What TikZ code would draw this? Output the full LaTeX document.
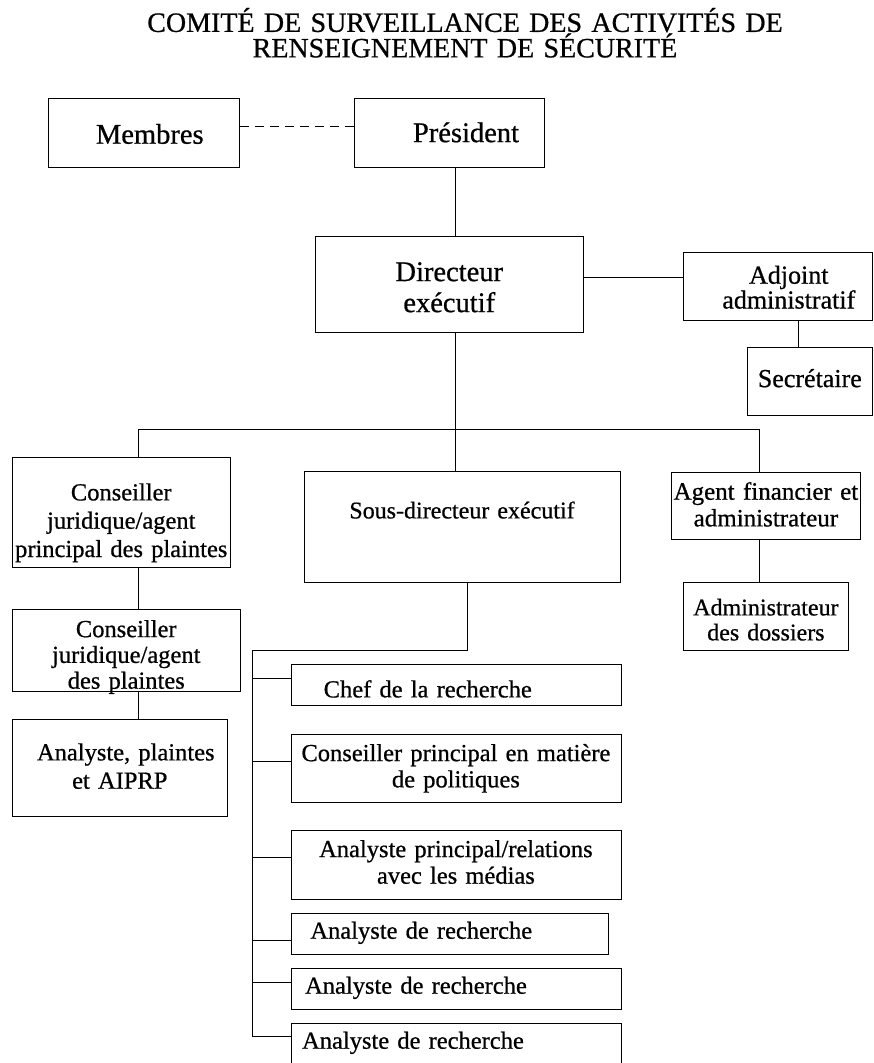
\documentclass[tikz,border=0pt]{standalone}
\usepackage{fontspec}
\setmainfont[FakeBold=0.7]{Liberation Serif}
\usetikzlibrary{positioning}
\newcommand\topfont{\fontsize{28.5}{31}\selectfont}
\newcommand\bodyfont{\fontsize{24.5}{26.5}\selectfont}
\tikzset {
  link/.style = {
    draw = black,
    line width = 0.8pt
  },
  % link to the members, dashed
  dlink/.style = {
    link,
    dash pattern = on 9pt off 6pt
  },
  % box: width, top to first baseline, first baseline to bottom
  box/.style n args = {3}{
    draw = black,
    line width = 0.8pt,
    anchor = north west,
    inner sep = 0pt,
    text width = #1pt,
    text height = #2pt,
    text depth = #3pt,
    align = center,
    font = \bodyfont
  }
}
\begin{document}
\begin{tikzpicture}[x=1pt, y=-1pt]
    \useasboundingbox (0,0) rectangle (873,1063);
    \node[font = \fontsize{28}{23.3}\selectfont, text width = 800pt, align = center,
      inner sep = 0pt, anchor = north, text height = 31.7pt] (title) at (465,0)
      {COMITÉ DE SURVEILLANCE DES ACTIVITÉS DE\\RENSEIGNEMENT DE SÉCURITÉ};

    \node[box = {191.2}{45}{24}, font = \topfont] (membres) at (47.8,98.3) {\hspace*{12pt}Membres};
    \node[box = {190.2}{43.4}{25.6}, font = \topfont] (president) at (354,98.3) {\hspace*{33pt}Président};
    \node[box = {267.7}{44.7}{51}, font = \topfont] (directeur) at (315,236) {Directeur\\exécutif};
    \node[box = {188.2}{31.6}{36.7}, font = \fontsize{26}{23.5}\selectfont] (adjoint) at (683.3,251.7)
      {\hspace*{22pt}Adjoint\\\hspace*{22pt}administratif};
    \node[box = {124.2}{40}{28.3}, font = \fontsize{26}{28}\selectfont] (secretaire) at (747.3,346.7) {Secrétaire};

    % left column
    \node[box = {218.3}{42.7}{66.7}, font = \fontsize{24.5}{28.3}\selectfont] (cjprincipal) at (11.7,457.3)
      {Conseiller\\juridique/agent\\principal des plaintes};
    \node[box = {228.3}{27.7}{54.3}, font = \fontsize{24.5}{25.8}\selectfont] (cjagent) at (11.7,609)
      {Conseiller\\juridique/agent\\des plaintes};
    \node[box = {215.6}{40.7}{56}, font = \fontsize{24.5}{28.3}\selectfont] (analplaintes) at (11.6,719.3)
      {\hspace*{12pt}Analyste, plaintes\\et AIPRP};

    % middle column
    \node[box = {316.2}{47.3}{64.3}, font = \fontsize{24}{26}\selectfont] (sousdir) at (303.5,470.7)
      {Sous-directeur exécutif\hspace*{16pt}};
    \node[box = {330}{33.5}{8}, align = left] (chef) at (290.5,663.5) {\hspace*{32.8pt}Chef de la recherche};
    \node[box = {330}{26.7}{41.6}, font = \fontsize{24.5}{26.3}\selectfont] (conspol) at (290.5,734)
      {Conseiller principal en matière\\de politiques};
    \node[box = {330}{26.7}{42.6}, font = \fontsize{24.5}{26.6}\selectfont] (analmedia) at (290.5,830)
      {Analyste principal/relations\hspace*{18pt}\\avec les médias\hspace*{18pt}};
    \node[box = {317}{25.6}{15.7}, align = left] (recherche1) at (290.5,912.7) {\hspace*{19.5pt}Analyste de recherche};
    \node[box = {330}{25}{16}, align = left] (recherche2) at (290.5,968.3) {\hspace*{14.2pt}Analyste de recherche};
    \node[box = {330}{25}{16}, align = left] (recherche3) at (290.5,1023.3) {\hspace*{11.2pt}Analyste de recherche};

    % right column
    \node[box = {189}{27.6}{40}, font = \fontsize{25}{26.7}\selectfont] (agentfin) at (671,471.7)
      {Agent financier et\\administrateur};
    \node[box = {165.6}{33.3}{35}, font = \fontsize{24}{25}\selectfont] (admindos) at (682.7,581.7)
      {Administrateur\\des dossiers};

    \coordinate (busl) at (138.3,429.3);
    \coordinate (busc) at (455.5,429.3);
    \coordinate (busr) at (759,429.3);
    \coordinate (spinetop) at (252.3,650);
    \coordinate (spinebot) at (252.3,1036.3);

    \draw[dlink] ([yshift=7pt]membres.east) -- ([yshift=7pt]membres.east -| president.west);
    \draw[link] (president.south -| busc) -- (directeur.north -| busc);
    \draw[link] ([yshift=9pt]adjoint.west) -- ([yshift=9pt]adjoint.west -| directeur.east);
    \draw[link] ([xshift=-11.5pt]secretaire.north) -- ([xshift=-11.5pt]secretaire.north |- adjoint.south);
    \draw[link] (directeur.south -| busc) -- (busc);
    \draw[link] (busl) -- (busr);
    \draw[link] (busl) -- (busl |- cjprincipal.north);
    \draw[link] (busc) -- (busc |- sousdir.north);
    \draw[link] (busr) -- (busr |- agentfin.north);
    \draw[link] (cjprincipal.south -| busl) -- (cjagent.north -| busl);
    \draw[link] (cjagent.south -| busl) -- (analplaintes.north -| busl);
    \draw[link] (agentfin.south -| busr) -- (admindos.north -| busr);
    \draw[link] ([xshift=5pt]sousdir.south) |- (spinetop) -- (spinebot);
    \foreach \n/\dy in {chef/6, conspol/7.5, analmedia/7.4, recherche1/-6.6, recherche2/7, recherche3/7.5}
      \draw[link] ([yshift=\dy pt]\n.west) -- ([yshift=\dy pt]\n.west -| spinetop);
  \end{tikzpicture}
\end{document}
